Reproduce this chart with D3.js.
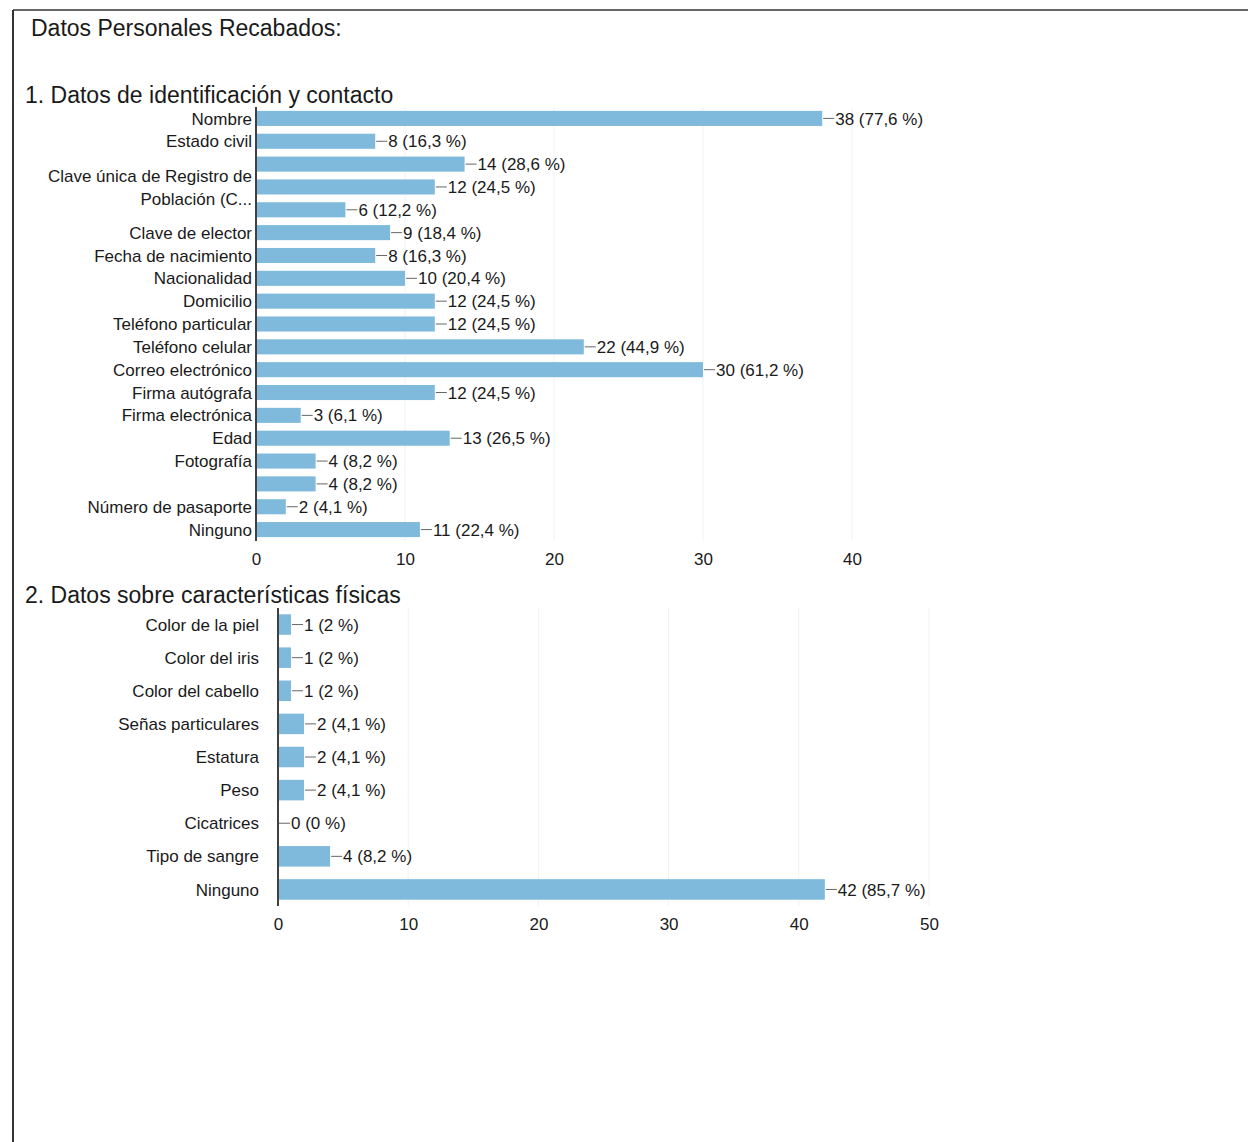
<!DOCTYPE html>
<html>
<head>
<meta charset="utf-8">
<script src="https://cdn.jsdelivr.net/npm/d3@7"></script>
<style>
  body { margin: 0; background: #fff; }
  svg { display: block; font-family: "Liberation Sans", Arial, sans-serif; }
  .tick text { fill: #1a1a1a; font-size: 17px; }
  .grid line { stroke: #eef3f6; }
</style>
</head>
<body>
<svg id="chart" width="1248" height="1142"></svg>
<script>
// Chart 1: identification / contact data
const idLabels = [
  "Nombre", "Estado civil", "", "Clave única de Registro de|Población (C...", "",
  "Clave de elector", "Fecha de nacimiento", "Nacionalidad", "Domicilio",
  "Teléfono particular", "Teléfono celular", "Correo electrónico", "Firma autógrafa",
  "Firma electrónica", "Edad", "Fotografía", "", "Número de pasaporte", "Ninguno"
];
const idValues = [38, 8, 14, 12, 6, 9, 8, 10, 12, 12, 22, 30, 12, 3, 13, 4, 4, 2, 11];
const idPercents = ["77,6", "16,3", "28,6", "24,5", "12,2", "18,4", "16,3", "20,4", "24,5",
  "24,5", "44,9", "61,2", "24,5", "6,1", "26,5", "8,2", "8,2", "4,1", "22,4"];
const idTicks = [0, 10, 20, 30, 40];

// Chart 2: physical characteristics
const physLabels = ["Color de la piel", "Color del iris", "Color del cabello", "Señas particulares",
  "Estatura", "Peso", "Cicatrices", "Tipo de sangre", "Ninguno"];
const physValues = [1, 1, 1, 2, 2, 2, 0, 4, 42];
const physPercents = ["2", "2", "2", "4,1", "4,1", "4,1", "0", "8,2", "85,7"];
const physTicks = [0, 10, 20, 30, 40, 50];

const barColor = "#7fbadd";
const textColor = "#1a1a1a";
const svg = d3.select("#chart");

// page frame (scanned form border)
svg.append("line").attr("x1", 13).attr("x2", 1248).attr("y1", 10).attr("y2", 10)
  .attr("stroke", "#666").attr("stroke-width", 2);
svg.append("line").attr("x1", 13).attr("x2", 13).attr("y1", 10).attr("y2", 1142)
  .attr("stroke", "#333").attr("stroke-width", 2);

svg.append("text").attr("x", 31).attr("y", 36)
  .attr("font-size", 23).attr("fill", textColor)
  .text("Datos Personales Recabados:");

function drawBars(opts) {
  const { labels, values, percents, ticks, x0, x1, top, bottom, labelX, barFrac, title, titleY } = opts;
  const g = svg.append("g");

  g.append("text").attr("x", 25).attr("y", titleY)
    .attr("font-size", 23).attr("fill", textColor).text(title);

  const x = d3.scaleLinear().domain([0, d3.max(ticks)]).range([x0, x1]);
  const y = d3.scaleBand().domain(d3.range(values.length)).range([top, bottom])
    .paddingInner(1 - barFrac).paddingOuter((1 - barFrac) / 2);

  // faint gridlines
  g.append("g").attr("class", "grid")
    .selectAll("line").data(ticks.slice(1)).join("line")
    .attr("x1", d => x(d)).attr("x2", d => x(d))
    .attr("y1", top).attr("y2", bottom);

  // bars
  g.selectAll(".bar").data(values).join("rect")
    .attr("class", "bar")
    .attr("x", x(0) + 1)
    .attr("y", (d, i) => y(i))
    .attr("width", d => Math.max(0, x(d) - x(0) - 1))
    .attr("height", y.bandwidth())
    .attr("fill", barColor);

  // connector lines + value labels
  g.selectAll(".conn").data(values).join("line")
    .attr("class", "conn")
    .attr("x1", d => x(d) + 1).attr("x2", d => x(d) + 12)
    .attr("y1", (d, i) => y(i) + y.bandwidth() / 2)
    .attr("y2", (d, i) => y(i) + y.bandwidth() / 2)
    .attr("stroke", "#666").attr("stroke-width", 1);

  g.selectAll(".val").data(values).join("text")
    .attr("class", "val")
    .attr("x", d => x(d) + 13)
    .attr("y", (d, i) => y(i) + y.bandwidth() / 2)
    .attr("dy", "0.36em")
    .attr("font-size", 17).attr("fill", textColor)
    .text((d, i) => `${d} (${percents[i]} %)`);

  // category labels (| splits wrapped lines)
  g.selectAll(".cat").data(labels).join("text")
    .attr("class", "cat")
    .attr("text-anchor", "end")
    .attr("font-size", 17).attr("fill", textColor)
    .each(function (d, i) {
      const lines = d.split("|");
      const cy = y(i) + y.bandwidth() / 2;
      const lh = 23;
      lines.forEach((ln, k) => {
        d3.select(this).append("tspan")
          .attr("x", labelX)
          .attr("y", cy + (k - (lines.length - 1) / 2) * lh)
          .attr("dy", "0.36em")
          .text(ln);
      });
    });

  // zero axis line
  g.append("line").attr("x1", x(0)).attr("x2", x(0))
    .attr("y1", top).attr("y2", bottom)
    .attr("stroke", "#111").attr("stroke-width", 1.6);

  // tick labels
  g.append("g").attr("transform", `translate(0,${bottom + 12})`)
    .call(d3.axisBottom(x).tickValues(ticks).tickSize(0).tickPadding(0))
    .call(a => a.select(".domain").remove())
    .selectAll("text").attr("dy", "0.71em");
}

drawBars({
  labels: idLabels, values: idValues, percents: idPercents, ticks: idTicks,
  x0: 256, x1: 852, top: 107, bottom: 541, labelX: 252, barFrac: 0.66,
  title: "1. Datos de identificación y contacto", titleY: 103
});

drawBars({
  labels: physLabels, values: physValues, percents: physPercents, ticks: physTicks,
  x0: 278, x1: 929, top: 608, bottom: 906, labelX: 259, barFrac: 0.62,
  title: "2. Datos sobre características físicas", titleY: 603
});
</script>
</body>
</html>
